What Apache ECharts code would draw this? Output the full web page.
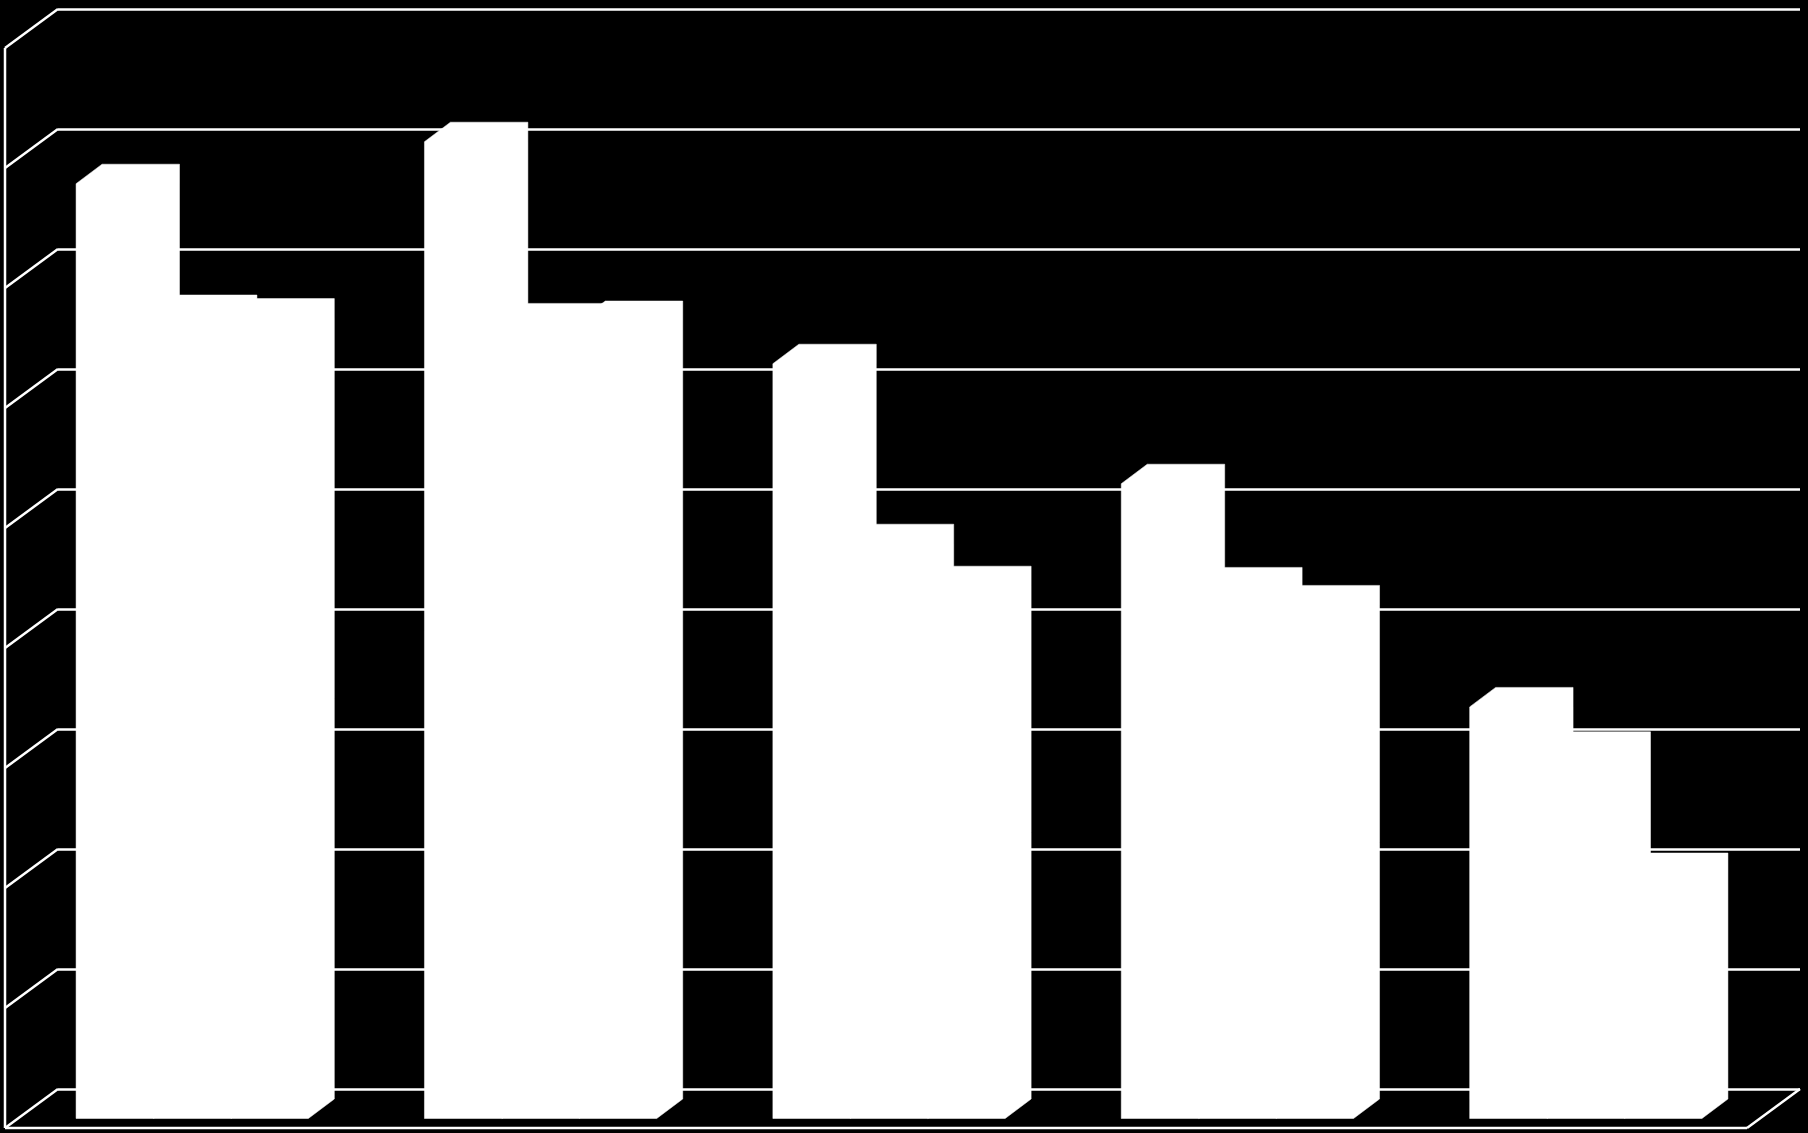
<!DOCTYPE html>
<html>
<head>
<meta charset="utf-8">
<style>html,body{margin:0;padding:0;background:#000;}#c{width:1808px;height:1133px;}</style>
<script src="https://cdn.jsdelivr.net/npm/echarts@6/dist/echarts.min.js"></script>
</head>
<body>
<div id="c"></div>
<script>
const categories = ['1', '2', '3', '4', '5'];
const seriesA = [7.79, 8.14, 6.29, 5.29, 3.43];
const seriesB = [6.70, 6.63, 4.79, 4.43, 3.06];
const seriesC = [6.67, 6.65, 4.44, 4.28, 2.05];
const yTicks = [0, 1, 2, 3, 4, 5, 6, 7, 8, 9];

const WALL_DX = 53, WALL_DY = 39;
const BAR_DX = 26, BAR_DY = 19.5;
const BAR_SHIFT_X = 14, BAR_SHIFT_Y = 10;
const LINE_W = 2.5;

function barSeries(name, values, idx) {
  return {
    name, type: 'custom', coordinateSystem: 'cartesian2d', z: 5,
    data: values.map((v, i) => [i, v]),
    encode: { x: 0, y: 1 },
    renderItem(params, api) {
      const cat = api.value(0), val = api.value(1);
      const base = api.coord([cat, 0]);
      const top = api.coord([cat, val]);
      const band = api.size([1, 0])[0];
      const w = band / 4.5;
      const x0 = base[0] - BAR_SHIFT_X - 1.5 * w + idx * w;
      const yb = base[1] + BAR_SHIFT_Y;
      const yt = top[1] + BAR_SHIFT_Y;
      return {
        type: 'polygon',
        shape: { points: [
          [x0 - BAR_DX, yt + BAR_DY], [x0, yt], [x0 + w, yt], [x0 + w, yb],
          [x0 + w - BAR_DX, yb + BAR_DY], [x0 - BAR_DX, yb + BAR_DY]
        ] },
        style: { fill: '#fff', stroke: '#fff', lineWidth: 0.5 }
      };
    }
  };
}

const wallSeries = {
  type: 'custom', coordinateSystem: 'cartesian2d', z: 2, silent: true,
  data: yTicks.map(t => [0, t]),
  encode: { y: 1 },
  clip: false,
  renderItem(params, api) {
    const t = api.value(1);
    const p = api.coord([0, t]);
    const left = params.coordSys.x;
    const right = left + params.coordSys.width;
    const children = [{
      type: 'line',
      shape: { x1: left, y1: p[1], x2: left - WALL_DX, y2: p[1] + WALL_DY },
      style: { stroke: '#fff', lineWidth: LINE_W }
    }];
    if (t === 0) {
      const y0 = p[1] + WALL_DY;
      children.push(
        { type: 'line', shape: { x1: left - WALL_DX, y1: y0, x2: right - WALL_DX, y2: y0 }, style: { stroke: '#fff', lineWidth: LINE_W } },
        { type: 'line', shape: { x1: right - WALL_DX, y1: y0, x2: right, y2: p[1] }, style: { stroke: '#fff', lineWidth: LINE_W } }
      );
    }
    if (t === yTicks[yTicks.length - 1]) {
      const yBottom = api.coord([0, 0])[1] + WALL_DY;
      children.push({ type: 'line', shape: { x1: left - WALL_DX, y1: p[1] + WALL_DY, x2: left - WALL_DX, y2: yBottom }, style: { stroke: '#fff', lineWidth: LINE_W } });
    }
    return { type: 'group', children };
  }
};

const chart = echarts.init(document.getElementById('c'), null, { renderer: 'canvas' });
chart.setOption({
  animation: false,
  backgroundColor: '#000',
  grid: { left: 58, top: 9, width: 1742, height: 1080 },
  xAxis: { type: 'category', data: categories, axisLine: { show: false }, axisTick: { show: false }, axisLabel: { show: false }, splitLine: { show: false } },
  yAxis: { type: 'value', min: 0, max: 9, interval: 1, axisLine: { show: false }, axisTick: { show: false }, axisLabel: { show: false },
    splitLine: { show: true, lineStyle: { color: '#fff', width: LINE_W } } },
  series: [wallSeries, barSeries('A', seriesA, 0), barSeries('B', seriesB, 1), barSeries('C', seriesC, 2)]
});
</script>
</body>
</html>
